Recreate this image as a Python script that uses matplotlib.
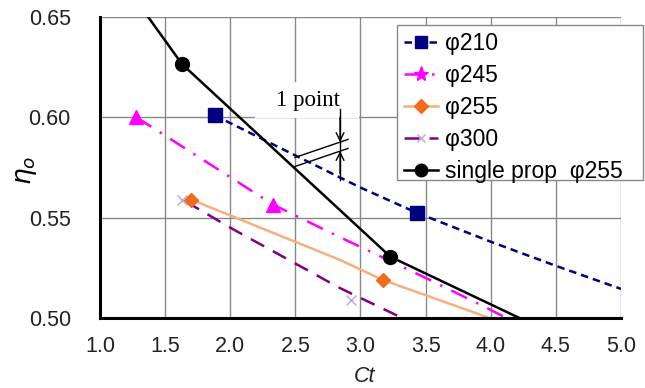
import matplotlib
matplotlib.use("Agg")
import matplotlib.pyplot as plt
from matplotlib.lines import Line2D
from matplotlib.patches import Rectangle

# ---- data ----
# phi 210
p210_mx = [1.88, 3.43]
p210_my = [0.601, 0.5525]
p210_lx = [1.88, 2.5, 3.0, 3.43, 4.0, 4.5, 5.0]
p210_ly = [0.601, 0.581, 0.565, 0.5525, 0.538, 0.526, 0.5145]
# phi 245
p245_mx = [1.28, 2.33]
p245_my = [0.600, 0.5565]
p245_lx = [1.28, 2.33, 2.77, 3.5, 3.97, 4.12]
p245_ly = [0.600, 0.5565, 0.5425, 0.520, 0.505, 0.500]
# phi 255
p255_mx = [1.70, 3.17]
p255_my = [0.559, 0.519]
p255_lx = [1.70, 2.84, 3.17, 3.99]
p255_ly = [0.559, 0.529, 0.519, 0.500]
# phi 300
p300_mx = [1.63, 2.93]
p300_my = [0.559, 0.509]
p300_lx = [1.66, 2.0, 2.84, 3.32]
p300_ly = [0.558, 0.545, 0.515, 0.500]
# single prop phi 255
sp_mx = [1.63, 3.23]
sp_my = [0.6265, 0.5305]
sp_lx = [1.37, 1.63, 3.23, 4.22]
sp_ly = [0.650, 0.6265, 0.5305, 0.500]

labels = ["\u03c6210", "\u03c6245", "\u03c6255", "\u03c6300", "single prop  \u03c6255"]
xticks = [1.0, 1.5, 2.0, 2.5, 3.0, 3.5, 4.0, 4.5, 5.0]
yticks = [0.50, 0.55, 0.60, 0.65]

# annotation geometry
ann_text = "1 point"
ann_l1 = ([2.497, 2.904], [0.580, 0.589])
ann_l2 = ([2.497, 2.904], [0.5755, 0.5845])
ann_x = 2.843

c210 = "#000080"
c245 = "#FF00FF"
c255m = "#F26A1B"
c255l = "#F5B07E"
c300 = "#800080"

fig = plt.figure(figsize=(6.45, 3.88), dpi=100)
ax = fig.add_axes([100/645, 1-318/388, 521/645, 301/388])
ax.set_axisbelow(True)

ax.add_patch(Rectangle((2.19, 0.5996), 0.80, 0.0182, facecolor="white",
                       edgecolor="none", zorder=1))

ax.plot(p210_lx, p210_ly, color=c210, lw=1.8, ls=(0, (3, 2)), zorder=2)
ax.plot(p210_mx, p210_my, ls="none", marker="s", ms=10, color=c210, zorder=3)

ax.plot(p245_lx, p245_ly, color=c245, lw=1.8, ls=(0, (7, 4, 1, 4)), zorder=2)
ax.plot(p245_mx, p245_my, ls="none", marker="^", ms=10, color=c245, zorder=3)

ax.plot(p255_lx, p255_ly, color=c255l, lw=1.8, zorder=2)
ax.plot(p255_mx, p255_my, ls="none", marker="D", ms=7, color=c255m, zorder=3)

ax.plot(p300_lx, p300_ly, color=c300, lw=1.8, ls=(0, (6, 4)), zorder=2)
ax.plot(p300_mx, p300_my, ls="none", marker="x", ms=7, mew=1, color="#B8A8D8", zorder=3)

ax.plot(sp_lx, sp_ly, color="black", lw=1.8, zorder=2)
ax.plot(sp_mx, sp_my, ls="none", marker="o", ms=10, color="black", zorder=3)

# annotation
ax.plot(*ann_l1, color="black", lw=1, zorder=4)
ax.plot(*ann_l2, color="black", lw=1, zorder=4)
ax.plot([ann_x, ann_x], [0.604, 0.569], color="black", lw=1, zorder=4)
ax.annotate("", xy=(ann_x, 0.5877), xytext=(ann_x, 0.600),
            arrowprops=dict(arrowstyle="->", lw=1, color="black", mutation_scale=14,
                            shrinkA=0, shrinkB=0), zorder=4)
ax.annotate("", xy=(ann_x, 0.5832), xytext=(ann_x, 0.572),
            arrowprops=dict(arrowstyle="->", lw=1, color="black", mutation_scale=14,
                            shrinkA=0, shrinkB=0), zorder=4)
ax.text(2.60, 0.6085, ann_text, fontsize=16.5, family="Liberation Serif",
        ha="center", va="center", zorder=5)

ax.set_xlim(1.0, 5.0)
ax.set_ylim(0.50, 0.65)
ax.set_xticks(xticks)
ax.set_yticks(yticks)
ax.set_xticklabels([f"{v:.1f}" for v in xticks], family="Liberation Sans", fontsize=15.5)
ax.set_yticklabels([f"{v:.2f}" for v in yticks], family="Liberation Sans", fontsize=15.5)
ax.tick_params(axis="both", length=0, colors="#222222")
ax.tick_params(axis="y", pad=21)
ax.tick_params(axis="x", pad=13)
ax.grid(True, color="#888888", lw=1)
for s in ["top", "right"]:
    ax.spines[s].set_visible(False)
for s in ["left", "bottom"]:
    ax.spines[s].set_linewidth(2.2)
    ax.spines[s].set_color("black")

fig.text(365/645, 1-377/388, "Ct", fontsize=15.5, style="italic",
         family="Liberation Sans", ha="center", va="center", color="#222222")
fig.text(26/645, 1-170/388, r"$\eta_o$", fontsize=19, rotation=90,
         ha="center", va="center")

# legend frame drawn as a figure patch (reference box is wider than its content)
fig.patches.append(Rectangle((397/645, 1-180/388), 246/645, 155/388,
                             transform=fig.transFigure, facecolor="white",
                             edgecolor="#888888", lw=1, zorder=4))

handles = [
    Line2D([], [], color=c210, ls=(0, (3, 2)), lw=1.8, marker="s", ms=9),
    Line2D([], [], color=c245, ls=(0, (7, 4, 1, 4)), lw=1.8, marker="*", ms=11),
    Line2D([], [], color=c255l, lw=1.8, marker="D", ms=7, mfc=c255m, mec=c255m),
    Line2D([], [], color=c300, ls=(0, (6, 4)), lw=1.8, marker="x", ms=6, mec="#B8A8D8"),
    Line2D([], [], color="black", lw=1.8, marker="o", ms=9),
]
leg = fig.legend(handles, labels, loc="upper left",
                 bbox_to_anchor=(397/645, 1-25/388), borderaxespad=0,
                 frameon=False, handlelength=1.5, handletextpad=0.3,
                 labelspacing=0.39, borderpad=0.3,
                 prop=dict(family=["Liberation Sans", "DejaVu Sans"], size=16.5))
leg.set_zorder(5)

fig.savefig("out.png", dpi=100)
